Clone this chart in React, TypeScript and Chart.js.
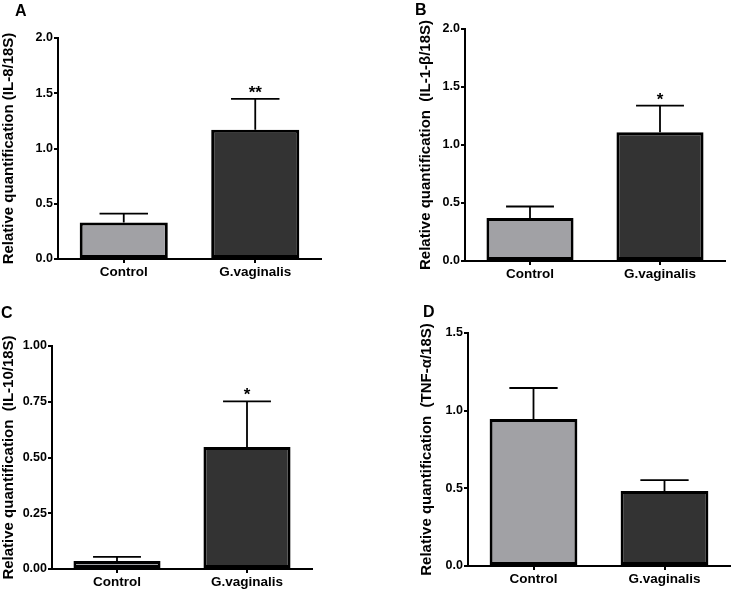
import { useEffect, useRef } from 'react';
import { Chart, registerables } from 'chart.js';

Chart.register(...registerables);

const categories = ['Control', 'G.vaginalis'];
const barColors = ['#a1a1a5', '#333333'];

const il8Means = [0.33, 1.17];
const il8Errors = [0.08, 0.28];
const il8Stars = ['', '**'];

const il1bMeans = [0.37, 1.11];
const il1bErrors = [0.1, 0.23];
const il1bStars = ['', '*'];

const il10Means = [0.036, 0.547];
const il10Errors = [0.018, 0.205];
const il10Stars = ['', '*'];

const tnfMeans = [0.946, 0.483];
const tnfErrors = [0.2, 0.07];
const tnfStars = ['', ''];

const FONT = '"Liberation Sans", Arial, sans-serif';

type Spec = {
  letter: string;
  title: string;
  means: number[];
  errors: number[];
  stars: string[];
  yMax: number;
  yStep: number;
  decimals: number;
  left: number;
  top: number;
  width: number;
  height: number;
  padLeft: number;
  yWidth: number;
  chartTop: number;
  chartRight: number;
  chartBottom: number;
  letterX: number;
  letterY: number;
};

const panels: Spec[] = [
  {
    letter: 'A', title: 'Relative quantification (IL-8/18S)',
    means: il8Means, errors: il8Errors, stars: il8Stars,
    yMax: 2, yStep: 0.5, decimals: 1,
    left: 0, top: 0, width: 366, height: 295,
    padLeft: 0, yWidth: 58, chartTop: 38, chartRight: 321, chartBottom: 259,
    letterX: 15, letterY: 2,
  },
  {
    letter: 'B', title: 'Relative quantification  (IL-1-\u03B2/18S)',
    means: il1bMeans, errors: il1bErrors, stars: il1bStars,
    yMax: 2, yStep: 0.5, decimals: 1,
    left: 366, top: 0, width: 367, height: 295,
    padLeft: 51, yWidth: 48, chartTop: 29, chartRight: 359, chartBottom: 261,
    letterX: 415, letterY: 1,
  },
  {
    letter: 'C', title: 'Relative quantification  (IL-10/18S)',
    means: il10Means, errors: il10Errors, stars: il10Stars,
    yMax: 1, yStep: 0.25, decimals: 2,
    left: 0, top: 295, width: 366, height: 296,
    padLeft: 0, yWidth: 52, chartTop: 51, chartRight: 312, chartBottom: 274,
    letterX: 1, letterY: 304,
  },
  {
    letter: 'D', title: 'Relative quantification  (TNF-\u03B1/18S)',
    means: tnfMeans, errors: tnfErrors, stars: tnfStars,
    yMax: 1.5, yStep: 0.5, decimals: 1,
    left: 366, top: 295, width: 367, height: 296,
    padLeft: 52, yWidth: 50, chartTop: 38, chartRight: 364, chartBottom: 271,
    letterX: 423, letterY: 303,
  },
];

function makeErrorPlugin(errors: number[], stars: string[]) {
  return {
    id: 'errorBars',
    afterDatasetsDraw(chart: any) {
      const meta = chart.getDatasetMeta(0);
      const yScale = chart.scales.y;
      const ctx = chart.ctx;
      const values = chart.data.datasets[0].data as number[];
      ctx.save();
      ctx.strokeStyle = '#000';
      ctx.lineWidth = 1.8;
      meta.data.forEach((bar: any, i: number) => {
        const topY = yScale.getPixelForValue(values[i] + errors[i]);
        const capW = bar.width * 0.55;
        ctx.beginPath();
        ctx.moveTo(bar.x, bar.y);
        ctx.lineTo(bar.x, topY);
        ctx.moveTo(bar.x - capW / 2, topY);
        ctx.lineTo(bar.x + capW / 2, topY);
        ctx.stroke();
        if (stars[i]) {
          ctx.fillStyle = '#000';
          ctx.font = `bold 17px ${FONT}`;
          ctx.textAlign = 'center';
          ctx.textBaseline = 'alphabetic';
          ctx.fillText(stars[i], bar.x, topY - 1);
        }
      });
      ctx.restore();
    },
  };
}

function Panel({ spec }: { spec: Spec }) {
  const ref = useRef<HTMLCanvasElement>(null);
  useEffect(() => {
    const s = spec;
    const chart = new Chart(ref.current!, {
      type: 'bar',
      data: {
        labels: categories,
        datasets: [
          {
            data: s.means,
            backgroundColor: barColors,
            borderColor: '#000',
            borderWidth: 3,
            borderSkipped: false,
            barPercentage: 0.67,
            categoryPercentage: 1,
          },
        ],
      },
      options: {
        animation: false,
        responsive: false,
        maintainAspectRatio: false,
        devicePixelRatio: 1,
        layout: {
          padding: { left: s.padLeft, top: s.chartTop, right: s.width - s.chartRight, bottom: 0 },
        },
        plugins: { legend: { display: false }, tooltip: { enabled: false } },
        scales: {
          x: {
            offset: true,
            grid: {
              display: true, drawOnChartArea: false, drawTicks: true, tickLength: 4,
              offset: false, color: '#000', lineWidth: 2,
            },
            border: { display: true, color: '#000', width: 2 },
            ticks: { color: '#000', font: { family: FONT, size: 13.5, weight: 'bold' }, padding: 1 },
            afterFit: (scale: any) => { scale.height = s.height - s.chartBottom; },
          },
          y: {
            min: 0,
            max: s.yMax,
            ticks: {
              stepSize: s.yStep,
              color: '#000',
              font: { family: FONT, size: 12.5, weight: 'bold' },
              padding: 1,
              callback: (v: any) => Number(v).toFixed(s.decimals),
            },
            grid: {
              display: true, drawOnChartArea: false, drawTicks: true, tickLength: 4,
              color: '#000', lineWidth: 2,
            },
            border: { display: true, color: '#000', width: 2 },
            title: {
              display: true, text: s.title, color: '#000', padding: 0,
              font: { family: FONT, size: 15, weight: 'bold' },
            },
            afterFit: (scale: any) => { scale.width = s.yWidth; },
          },
        },
      } as any,
      plugins: [makeErrorPlugin(s.errors, s.stars)],
    });
    return () => chart.destroy();
  }, [spec]);
  return (
    <canvas
      ref={ref}
      width={spec.width}
      height={spec.height}
      style={{ position: 'absolute', left: spec.left, top: spec.top, width: spec.width, height: spec.height }}
    />
  );
}

export default function App() {
  return (
    <div style={{ position: 'fixed', left: 0, top: 0, width: 733, height: 591, background: '#fff', overflow: 'hidden' }}>
      {panels.map((p) => (
        <Panel key={p.letter} spec={p} />
      ))}
      {panels.map((p) => (
        <div
          key={'l' + p.letter}
          style={{
            position: 'absolute', left: p.letterX, top: p.letterY,
            font: `bold 16px ${FONT}`, lineHeight: '18px', color: '#000',
          }}
        >
          {p.letter}
        </div>
      ))}
    </div>
  );
}
